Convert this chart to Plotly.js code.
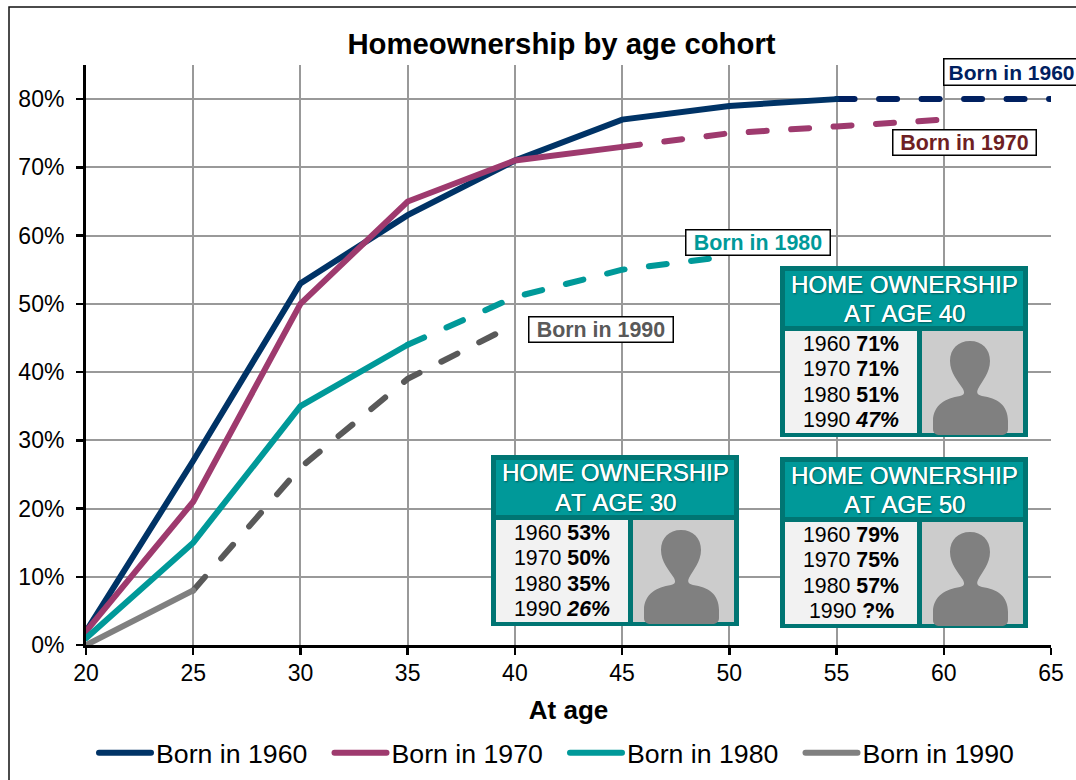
<!DOCTYPE html>
<html>
<head>
<meta charset="utf-8">
<script src="https://cdn.plot.ly/plotly-3.0.1.min.js"></script>
<style>
html,body{margin:0;padding:0;background:#fff;overflow:hidden}
#chart{width:1076px;height:780px}
.scatterlayer .js-line,.legendlines path{stroke-linecap:round}
svg text{font-kerning:none}
</style>
</head>
<body>
<div id="chart"></div>
<script>
// ---- data ----
const ages = [20,25,30,35,40,45,50,55,60,65];
const born1960 = [2,27,53,63,71,77,79,80,80,80];
const born1970 = [2,21,50,65,71,73,75,76,77,null];
const born1980 = [1,15,35,44,51,55,57,null,null,null];
const born1990 = [0,8,26,39,47,null,null,null,null,null];
const lastObserved = {1960:7, 1970:5, 1980:3, 1990:1}; // index where solid ends
const cohorts = [1960,1970,1980,1990];
const seriesValues = [born1960,born1970,born1980,born1990];
const solidColors = ['#003366','#9E3A6E','#009999','#808080'];
const dashColors = ['#002060','#9E3A6E','#009999','#595959'];
const labelColors = ['#002060','#6E1F23','#009999','#595959'];
const yTicks = [0,10,20,30,40,50,60,70,80];
const xTicks = [20,25,30,35,40,45,50,55,60,65];

// ---- page geometry ----
const W=1076,H=780,L=86,R=1051,T=65,B=645;
const px=x=>(x-L)/(R-L), py=y=>(H-y)/(H-T);

const traces=[];
cohorts.forEach((c,i)=>{
  const k=lastObserved[c], v=seriesValues[i];
  traces.push({x:ages.slice(k),y:v.slice(k),mode:'lines',showlegend:false,hoverinfo:'skip',cliponaxis:false,
    line:{color:dashColors[i],width:6,dash:'18px,24.5px'}});
});
cohorts.forEach((c,i)=>{
  const k=lastObserved[c], v=seriesValues[i];
  traces.push({x:ages.slice(0,k+1),y:v.slice(0,k+1),mode:'lines',name:'Born in '+c,cliponaxis:false,
    line:{color:solidColors[i],width:6}});
});

const shapes=[],annotations=[];
const rectPaper=(x0,y0,x1,y1,fill,extra)=>Object.assign({type:'rect',xref:'paper',yref:'paper',x0:px(x0),x1:px(x1),y0:py(y0),y1:py(y1),fillcolor:fill,line:{width:0},layer:'above'},extra||{});
const textAt=(x,y,text,size,color,extra)=>Object.assign({xref:'paper',yref:'paper',x:px(x),y:py(y),text,showarrow:false,xanchor:'center',yanchor:'middle',
  font:{family:'Liberation Sans, Arial, sans-serif',size,color}},extra||{});

// outer chart frame
shapes.push({type:'path',xref:'paper',yref:'paper',layer:'below',line:{color:'#111',width:1.5},
  path:`M${px(9)},${py(790)} L${px(9)},${py(7)} L${px(1090)},${py(7)}`});

// silhouette outline, pixels relative to the photo cell
const silhouette=[['M',48,10],['C',60,10,68,18,68,30],['C',68,42,60,50,56,58],['C',54,62,56,64,60,65],['C',75,67,86,74,86,90],['L',86,98],['C',86,102,83,104,79,104],['L',18,104],['C',14,104,11,102,11,98],['L',11,90],['C',11,74,24,67,38,65],['C',42,64,43,62,41,58],['C',36,50,28,42,28,30],['C',28,18,36,10,48,10]];

function panel(ox,oy,age){
  shapes.push(rectPaper(ox,oy,ox+248,oy+171,'#007573'));
  shapes.push(rectPaper(ox+5,oy+5,ox+243,oy+60,'#009999'));
  shapes.push(rectPaper(ox+5,oy+65,ox+137,oy+167,'#F2F2F2'));
  shapes.push(rectPaper(ox+142,oy+65,ox+243,oy+167,'#CCCCCC'));
  const cx=ox+142, cy=oy+65;
  const d=silhouette.map(s=>{let o=s[0];for(let j=1;j<s.length;j+=2){o+=(j>1?' ':'')+px(cx+s[j])+','+py(cy+s[j+1]);}return o;}).join(' ')+' Z';
  shapes.push({type:'path',xref:'paper',yref:'paper',layer:'above',path:d,fillcolor:'#808080',line:{width:0}});
  const mid=ox+124;
  const shadow='0.3px 0 0 #fff, 1px 1px 2px rgba(0,0,0,0.45)';
  annotations.push(textAt(mid,oy+18,'HOME OWNERSHIP',24,'#fff'));
  annotations[annotations.length-1].font.shadow=shadow;
  annotations.push(textAt(mid,oy+47,'AT AGE '+age,24,'#fff'));
  annotations[annotations.length-1].font.shadow=shadow;
  cohorts.forEach((c,i)=>{
    const v=seriesValues[i][ages.indexOf(age)];
    let val=(v===null?'?':v)+'%';
    val='<b>'+val+'</b>';
    if(c===1990&&v!==null) val='<i>'+val+'</i>';
    annotations.push(textAt(ox+71,oy+77.5+i*25.5,c+' '+val,21.3,'#000'));
  });
}
panel(491,455,30);
panel(780,266,40);
panel(780,457,50);

// series labels
const boxes=[[943,58,136,27],[892,129,144,26],[685,229,145,26],[528,316,145,26]];
cohorts.forEach((c,i)=>{
  const b=boxes[i];
  annotations.push({xref:'paper',yref:'paper',x:px(b[0]),y:py(b[1]),xanchor:'left',yanchor:'top',showarrow:false,
    text:'<b>Born in '+c+'</b>',width:b[2]-4,height:b[3]-4,align:'center',bgcolor:'#fff',bordercolor:'#000',borderwidth:1.5,borderpad:1,
    font:{family:'Liberation Sans, Arial, sans-serif',size:i===0?21:21.4,color:labelColors[i]}});
});

const layout={
  width:W,height:H,margin:{l:L,r:W-R,t:T,b:0,pad:0},
  paper_bgcolor:'#fff',plot_bgcolor:'#fff',
  font:{family:'Liberation Sans, Arial, sans-serif',color:'#000'},
  title:{text:'<b>Homeownership by age cohort</b>',font:{size:29.3,color:'#000'},xref:'paper',x:px(561.5),xanchor:'center',yref:'container',y:1-44/H,yanchor:'middle'},
  xaxis:{range:[20,65],tickvals:xTicks,ticktext:xTicks.map(String),showgrid:true,gridcolor:'#999999',gridwidth:2,
    showline:true,linecolor:'#000',linewidth:3,ticks:'outside',ticklen:7,tickwidth:2.5,tickcolor:'#000',zeroline:false,
    tickfont:{size:23,color:'#000'},ticklabelstandoff:-2,title:{text:'<b>At age</b>',font:{size:26,color:'#000'},standoff:17}},
  yaxis:{domain:[(H-B)/(H-T),1],range:[0,85],tickvals:yTicks,ticktext:yTicks.map(v=>v+'%'),showgrid:true,gridcolor:'#999999',gridwidth:2,
    showline:true,linecolor:'#000',linewidth:3,ticks:'outside',ticklen:7,tickwidth:2.5,tickcolor:'#000',zeroline:false,
    tickfont:{size:23,color:'#000'},ticklabelstandoff:7},
  legend:{orientation:'h',x:px(94),y:py(729),xanchor:'left',yanchor:'top',itemwidth:52,entrywidth:168.5,entrywidthmode:'pixels',
    font:{size:26.7,color:'#000'},bgcolor:'rgba(0,0,0,0)',traceorder:'normal',itemclick:false,itemdoubleclick:false},
  shapes,annotations,hovermode:false
};
Plotly.newPlot('chart',traces,layout,{displayModeBar:false,staticPlot:true});
</script>
</body>
</html>
